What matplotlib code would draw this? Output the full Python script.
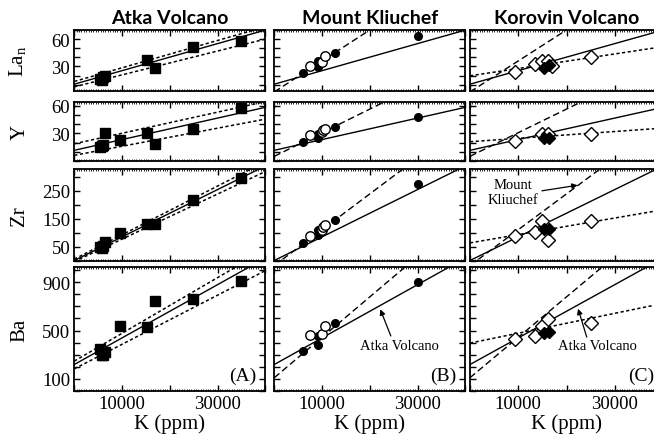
import numpy as np
import matplotlib
matplotlib.use("Agg")
import matplotlib.pyplot as plt
from matplotlib.ticker import MultipleLocator, FuncFormatter

plt.rcParams["font.family"] = ["Liberation Serif", "DejaVu Serif"]
plt.rcParams["mathtext.fontset"] = "custom"
plt.rcParams["mathtext.rm"] = "Liberation Serif"
plt.rcParams["lines.scale_dashes"] = False

nan = np.nan

volcanoes = ["Atka Volcano", "Mount Kliuchef", "Korovin Volcano"]
ylabels = [r"La$_{\rm n}$", "Y", "Zr", "Ba"]
ylims = [(3, 70), (0, 64), (0, 327), (0, 1025)]
ytick_step = [10, 10, 50, 100]
ytick_labels = [[30, 60], [30, 60], [50, 150, 250], [100, 500, 900]]
panel_tags = ["(A)", "(B)", "(C)"]

# samples: K (ppm) and element values per row (La_n, Y, Zr, Ba)
atka_k = [5400, 5700, 6000, 6500, 9500, 15200, 16900, 24800, 34900]
atka_vals = [
    [16, 15, 18, 20, nan, 37, 28.5, 51, 58],
    [15, 16, 17, 30, 22.6, 30.8, 18.7, 34.4, 57],
    [50, 45, 52, 66, 99, 130, 130, 215, 296],
    [350, 300, 295, 325, 536, 528, 743, 762, 913],
]
kliu_k_filled = [6000, 9200, 9200, 12700, 30100]
kliu_filled = [
    [22.3, 28.9, 36.2, 44.3, 63.6],
    [20.9, 25.3, 28.9, 37.4, 47.3],
    [60.8, 90.4, 108, 144, 272],
    [334, 384, 458, 563, 900],
]
kliu_k_open = [7500, 9900, 10300, 10600]
kliu_open = [
    [30, 35, nan, 41.5],
    [28.1, 31.9, 33.3, 35.2],
    [86.8, 108, 120, 126],
    [467, 472, nan, 541],
]
koro_k_open = [9400, 13400, 15000, 16200, 17000, 25100]
koro_open = [
    [23.5, 32.5, 36, 35.5, 31, 40],
    [21.5, nan, 29, 29.5, nan, 29.5],
    [87, 102, 142, 75, nan, 142],
    [427, 458, 541, 599, nan, 561],
]
koro_k_filled = [15400, 16300]
koro_filled = [
    [28.5, 31.5],
    [25, 25],
    [111, 112],
    [476, 490],
]

# regression lines: (intercept, slope per 1000 ppm K) for La_n, Y, Zr, Ba
atka_fit = [(10.5, 1.485), (11.6, 1.165), (0, 8.45), (219, 22.0)]
atka_upper = [(13.5, 1.50), (18.7, 1.143), (5, 8.7), (247, 23.0)]
atka_lower = [(7.6, 1.31), (6.2, 0.98), (-4, 8.05), (183, 20.3)]
kliu_fit = [(2, 3.4), (5.1, 2.56), (-18, 12.8), (110, 33.4)]
koro_fit = [(19.7, 0.8), (20.9, 0.37), (63, 2.96), (396, 8.2)]

W, H = 654, 439
col_left = [74.3, 274.3, 470]
col_width = [191, 191, 193]
row_span = [(31, 92), (103, 162), (170, 261.5), (268, 392)]

fig = plt.figure(figsize=(W / 100, H / 100), dpi=100)
kx = np.array([0, 40000])

solid = dict(color="k", lw=1.0)
short = dict(color="k", lw=1.1, dashes=(2.3, 1.8))
long_ = dict(color="k", lw=1.0, dashes=(4.8, 2.6))


def fitline(ax, p, **kw):
    ax.plot(kx, p[0] + p[1] * kx / 1000, **kw)


axes = {}
for c in range(3):
    for r in range(4):
        top, bot = row_span[r]
        ax = fig.add_axes([col_left[c] / W, 1 - bot / H, col_width[c] / W, (bot - top) / H])
        axes[r, c] = ax
        ax.set_xlim(0, 40000)
        ax.set_ylim(*ylims[r])
        for s in ax.spines.values():
            s.set_linewidth(1.3)
        ax.xaxis.set_major_locator(MultipleLocator(10000))
        ax.xaxis.set_minor_locator(MultipleLocator(500))
        ax.yaxis.set_major_locator(MultipleLocator(ytick_step[r]))
        ax.tick_params(which="major", direction="in", top=True, right=True,
                       length=4.5, width=1.0, labelsize=13.5, pad=3)
        ax.tick_params(which="minor", direction="in", top=True, bottom=True,
                       left=False, right=False, length=1.5, width=0.6)
        labs = ytick_labels[r]
        if c == 0:
            ax.yaxis.set_major_formatter(FuncFormatter(
                lambda v, p, labs=labs: f"{v:.0f}" if round(v) in labs else ""))
            ax.set_ylabel(ylabels[r], fontsize=15)
            ax.yaxis.set_label_coords(-0.235, 0.5)
        else:
            ax.set_yticklabels([])
        if r == 3:
            ax.xaxis.set_major_formatter(FuncFormatter(
                lambda v, p: f"{v:.0f}" if round(v) in (10000, 30000) else ""))
            ax.set_xlabel("K (ppm)", fontsize=15, labelpad=1)
        else:
            ax.set_xticklabels([])
        if r == 0:
            ax.set_title(volcanoes[c], fontsize=14, fontweight="bold",
                         family="Lato", pad=5)

        if c == 0:
            fitline(ax, atka_upper[r], **short)
            fitline(ax, atka_lower[r], **short)
            fitline(ax, atka_fit[r], **solid)
            ax.plot(atka_k, atka_vals[r], "s", color="k", ms=6.5, ls="none")
        elif c == 1:
            fitline(ax, atka_fit[r], **solid)
            fitline(ax, kliu_fit[r], **long_)
            ax.plot(kliu_k_filled, kliu_filled[r], "o", color="k", ms=5.5, ls="none")
            ax.plot(kliu_k_open, kliu_open[r], "o", mfc="white", mec="k", mew=1.0,
                    ms=6.8, ls="none")
        else:
            fitline(ax, atka_fit[r], **solid)
            fitline(ax, kliu_fit[r], **long_)
            fitline(ax, koro_fit[r], **short)
            ax.plot(koro_k_open, koro_open[r], "D", mfc="white", mec="k", mew=1.0,
                    ms=7.3, ls="none")
            ax.plot(koro_k_filled, koro_filled[r], "D", color="k", ms=6.5, ls="none")

    axes[3, c].text(0.955, 0.09, panel_tags[c], transform=axes[3, c].transAxes,
                    ha="right", va="baseline", fontsize=14)

arrow = dict(arrowstyle="-|>", color="k", lw=0.9, mutation_scale=8,
             shrinkA=0, shrinkB=0)

ax = axes[3, 1]
ax.text(26200, 372, "Atka Volcano", ha="center", va="center", fontsize=10.5)
ax.annotate("", xy=(22200, 675), xytext=(24400, 455), arrowprops=arrow)

ax = axes[3, 2]
ax.text(26500, 372, "Atka Volcano", ha="center", va="center", fontsize=10.5)
ax.annotate("", xy=(22400, 680), xytext=(24200, 445), arrowprops=arrow)

ax = axes[2, 2]
ax.text(8900, 244, "Mount\nKliuchef", ha="center", va="center", fontsize=10.5,
        multialignment="center", linespacing=1.15)
ax.annotate("", xy=(22300, 269), xytext=(14900, 249), arrowprops=arrow)

fig.savefig("out.png", dpi=100)
